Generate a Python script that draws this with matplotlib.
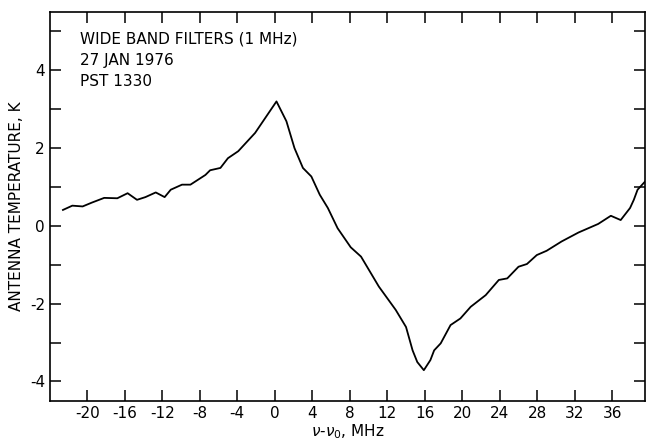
import numpy as np
import matplotlib.pyplot as plt
from matplotlib.ticker import MultipleLocator

plt.rcParams['axes.unicode_minus'] = False
plt.rcParams['font.family'] = ['Liberation Sans Narrow', 'DejaVu Sans']

# frequency offset (MHz) and antenna temperature (K)
freq = [-22.6, -21.6, -20.5, -19.5, -18.2, -16.8, -15.7, -14.7, -13.8, -12.7,
        -11.75, -11.1, -9.9, -9.0, -7.4, -6.9, -5.8, -5.0, -3.9, -2.1,
        0.18, 1.24, 2.1, 3.0, 3.9, 4.8, 5.66, 6.7, 8.1, 9.2,
        11.1, 12.9, 14.0, 14.7, 15.2, 15.9, 16.6, 17.0, 17.7, 18.75,
        19.8, 20.9, 22.5, 23.9, 24.8, 26.0, 26.9, 27.95, 29.0, 30.6,
        32.4, 34.5, 35.85, 36.9, 37.9, 38.3, 38.7, 39.5]
temp = [0.41, 0.52, 0.50, 0.60, 0.72, 0.71, 0.84, 0.67, 0.74, 0.86,
        0.74, 0.93, 1.06, 1.06, 1.31, 1.43, 1.49, 1.74, 1.92, 2.39,
        3.20, 2.69, 2.0, 1.49, 1.27, 0.80, 0.46, -0.06, -0.55, -0.79,
        -1.56, -2.16, -2.60, -3.20, -3.50, -3.71, -3.45, -3.20, -3.02, -2.55,
        -2.38, -2.08, -1.78, -1.39, -1.35, -1.05, -0.98, -0.75, -0.64, -0.40,
        -0.17, 0.05, 0.26, 0.15, 0.46, 0.67, 0.93, 1.14]

notes = ["WIDE BAND FILTERS (1 MHz)", "27 JAN 1976", "PST 1330"]

fig = plt.figure(figsize=(6.47, 4.43), dpi=100)
ax = fig.add_axes([0.077, 0.095, 0.92, 0.878])

ax.plot(freq, temp, color='black', lw=1.3)

ax.set_xlim(-24, 39.5)
ax.set_ylim(-4.5, 5.5)
ax.xaxis.set_major_locator(MultipleLocator(4))
ax.yaxis.set_major_locator(MultipleLocator(2))
ax.yaxis.set_minor_locator(MultipleLocator(1))
ax.set_xticks(np.arange(-20, 40, 4))
ax.tick_params(which='both', direction='in', top=True, right=True,
               length=8, width=1.1, labelsize=11)
ax.tick_params(which='minor', length=8)
for s in ax.spines.values():
    s.set_linewidth(1.2)

ax.set_xlabel(r"$\nu$-$\nu_0$, MHz", fontsize=11, labelpad=1)
ax.set_ylabel("ANTENNA TEMPERATURE, K", fontsize=11, labelpad=4)

for i, t in enumerate(notes):
    ax.text(0.05, 0.95 - i * 0.055, t, transform=ax.transAxes,
            fontsize=11, va='top', ha='left')

fig.savefig('out.png', dpi=100)
